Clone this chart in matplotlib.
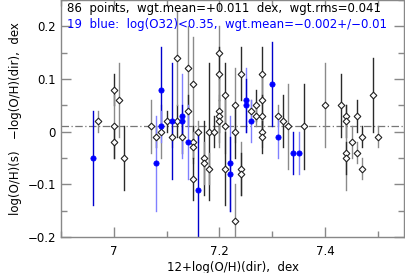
import matplotlib
matplotlib.use('Agg')
import matplotlib.pyplot as plt
from matplotlib import ticker
import numpy as np

# black (open) points: 12+log(O/H)(dir), delta, error
blk_x = [6.97, 7.00, 7.00, 7.00, 7.01, 7.02, 7.07, 7.08, 7.09, 7.10,
         7.11, 7.12, 7.12, 7.13, 7.14, 7.14, 7.15, 7.15, 7.15, 7.15,
         7.16, 7.17, 7.17, 7.18, 7.18, 7.19, 7.20, 7.20, 7.20, 7.20,
         7.20, 7.21, 7.21, 7.21, 7.23, 7.23, 7.23, 7.24, 7.24, 7.24,
         7.26, 7.27, 7.27, 7.28, 7.28, 7.28, 7.28, 7.28, 7.31, 7.32,
         7.33, 7.36, 7.40, 7.43, 7.44, 7.44, 7.44, 7.44, 7.45, 7.46,
         7.46, 7.47, 7.47, 7.49, 7.50]
blk_y = [0.02, 0.08, 0.01, -0.02, 0.06, -0.05, 0.01, -0.01, 0.00, 0.02,
         -0.01, 0.02, 0.14, -0.01, 0.12, 0.04, 0.09, -0.02, -0.03, -0.09,
         0.00, -0.05, -0.06, 0.00, -0.07, 0.00, 0.15, 0.11, 0.04, 0.03,
         0.02, 0.07, 0.01, -0.07, 0.05, 0.00, -0.17, 0.11, -0.07, -0.08,
         0.04, 0.05, 0.03, 0.11, 0.06, 0.03, 0.00, -0.01, 0.03, 0.02,
         0.01, 0.01, 0.05, 0.05, 0.03, 0.02, -0.04, -0.05, -0.02, 0.03,
         -0.04, -0.01, -0.07, 0.07, -0.01]
blk_e = [0.02, 0.03, 0.06, 0.03, 0.07, 0.06, 0.05, 0.02, 0.05, 0.02,
         0.02, 0.03, 0.09, 0.03, 0.08, 0.03, 0.09, 0.03, 0.03, 0.04,
         0.02, 0.07, 0.04, 0.13, 0.03, 0.03, 0.05, 0.05, 0.06, 0.03,
         0.05, 0.06, 0.05, 0.07, 0.07, 0.05, 0.07, 0.05, 0.05, 0.04,
         0.02, 0.03, 0.02, 0.05, 0.05, 0.04, 0.03, 0.03, 0.02, 0.05,
         0.08, 0.08, 0.08, 0.06, 0.02, 0.03, 0.07, 0.03, 0.03, 0.03,
         0.02, 0.02, 0.02, 0.07, 0.02]

# blue (filled) points: log(O32) < 0.35
blu_x = [6.96, 7.08, 7.09, 7.09, 7.11, 7.13, 7.13, 7.14, 7.16, 7.22,
         7.22, 7.25, 7.25, 7.26, 7.30, 7.31, 7.34, 7.35]
blu_y = [-0.05, -0.06, 0.08, 0.01, 0.02, 0.03, 0.02, -0.02, -0.11, -0.06,
         -0.08, 0.06, 0.05, 0.02, 0.09, -0.01, -0.04, -0.04]
blu_e = [0.09, 0.09, 0.08, 0.03, 0.11, 0.08, 0.03, 0.07, 0.11, 0.09,
         0.07, 0.06, 0.05, 0.04, 0.08, 0.04, 0.04, 0.04]

wgt_mean = 0.011
txt1 = '86  points,  wgt.mean=+0.011  dex,  wgt.rms=0.041'
txt2 = '19  blue:  log(O32)<0.35,  wgt.mean=\u22120.002+/\u22120.01'

fig = plt.figure(figsize=(4.06, 2.73), dpi=100)
ax = fig.add_axes([0.150, 0.132, 0.846, 0.868])

gray_shades = ['#8a8a8a', '#2a2a2a']
blue_shades = ['#0000cc', '#8080ff']

for i, (x, y, e) in enumerate(zip(blk_x, blk_y, blk_e)):
    ax.plot([x, x], [y - e, y + e], color=gray_shades[i % 2], lw=1.0, zorder=2)
for i, (x, y, e) in enumerate(zip(blu_x, blu_y, blu_e)):
    ax.plot([x, x], [y - e, y + e], color=blue_shades[i % 2], lw=1.0, zorder=2)

ax.axhline(wgt_mean, color='#777777', lw=0.9, ls=(0, (6, 2, 1, 2)), zorder=1)

ax.plot(blk_x, blk_y, 'D', ms=3.4, mfc='white', mec='#222222', mew=0.8, ls='none', zorder=3)
ax.plot(blu_x, blu_y, 'o', ms=3.8, mfc='#0000ff', mec='#0000ff', mew=0.5, ls='none', zorder=4)

ax.set_xlim(6.9, 7.55)
ax.set_ylim(-0.2, 0.25)
ax.xaxis.set_major_locator(ticker.FixedLocator([7.0, 7.2, 7.4]))
ax.xaxis.set_minor_locator(ticker.MultipleLocator(0.1))
ax.yaxis.set_major_locator(ticker.FixedLocator([-0.2, -0.1, 0.0, 0.1, 0.2]))
ax.yaxis.set_minor_locator(ticker.MultipleLocator(0.05))
ax.xaxis.set_major_formatter(ticker.FuncFormatter(lambda v, p: '%g' % round(v, 2)))
ax.yaxis.set_major_formatter(ticker.FuncFormatter(lambda v, p: ('%g' % round(v, 2)).replace('-', '\u2212')))

for s in ax.spines.values():
    s.set_color('#888888')
    s.set_linewidth(1.0)
ax.tick_params(which='both', direction='in', top=True, right=True, color='#888888', labelsize=8.5)
ax.tick_params(which='major', length=7, width=1.0)
ax.tick_params(which='minor', length=4, width=1.0)
ax.tick_params(axis='x', pad=6)

ax.set_xlabel('12+log(O/H)(dir),  dex', fontsize=8.5, labelpad=2)
ax.set_ylabel('log(O/H)(s)   \u2212log(O/H)(dir),  dex', fontsize=8.5, labelpad=4)

ax.text(0.018, 0.99, txt1, transform=ax.transAxes, fontsize=8.5, va='top', ha='left', color='black')
ax.text(0.018, 0.925, txt2, transform=ax.transAxes, fontsize=8.5, va='top', ha='left', color='#0000ff')

fig.savefig('out.png', dpi=100)
